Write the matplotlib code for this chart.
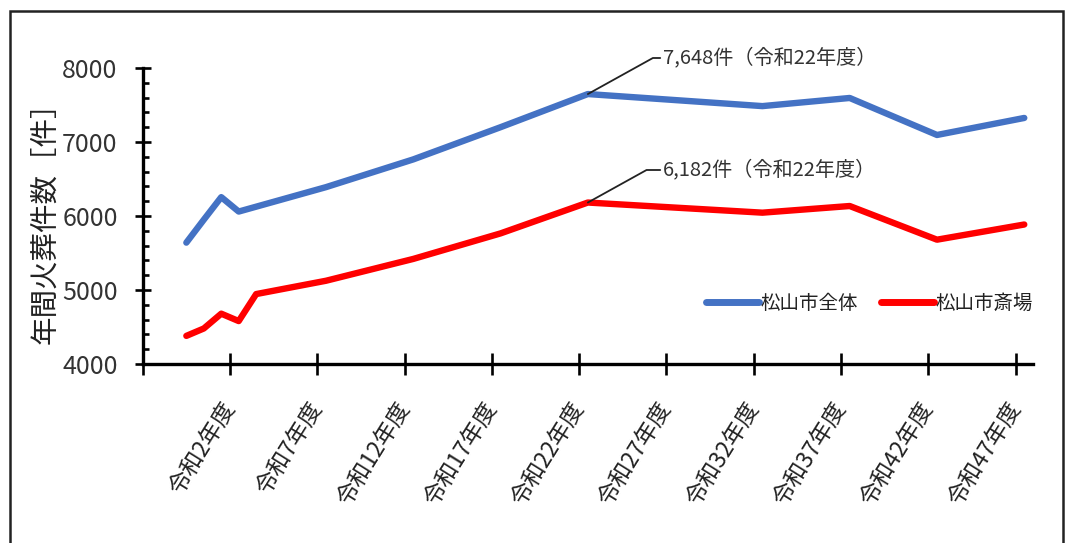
import matplotlib
matplotlib.use('Agg')
import matplotlib.pyplot as plt
from matplotlib.patches import Rectangle
from matplotlib.ticker import MultipleLocator, FixedLocator

plt.rcParams['font.family'] = ['Noto Sans CJK JP', 'DejaVu Sans']

# ---- data (令和 fiscal years; negative = before 令和) ----
total_years = [-1, 0, 1, 2, 7, 12, 17, 22, 32, 37, 42, 47]
total_values = [5640, 5950, 6255, 6060, 6390, 6765, 7200, 7648, 7485, 7595, 7095, 7325]

saijo_years = [-1, 0, 1, 2, 3, 7, 12, 17, 22, 32, 37, 42, 47]
saijo_values = [4380, 4480, 4680, 4580, 4945, 5125, 5420, 5765, 6182, 6045, 6135, 5680, 5885]

series_names = ['松山市全体', '松山市斎場']
series_colors = ['#4472C4', '#FF0000']

tick_years = [2, 7, 12, 17, 22, 27, 32, 37, 42, 47]
tick_labels = [f'令和{y}年度' for y in tick_years]

peak_year = 22
peak_total = 7648
peak_saijo = 6182
ylabel = '年間火葬件数［件］'

W, H = 1066, 543
fig = plt.figure(figsize=(W / 100, H / 100), dpi=100)
ax = fig.add_axes([142.7 / W, 1 - 364 / H, (1033 - 142.7) / W, (364 - 68) / H])

# category centres: year N plotted at N + 0.5
ax.plot([y + 0.5 for y in total_years], total_values, color=series_colors[0],
        lw=4.6, solid_capstyle='round', solid_joinstyle='round', label=series_names[0])
ax.plot([y + 0.5 for y in saijo_years], saijo_values, color=series_colors[1],
        lw=4.6, solid_capstyle='round', solid_joinstyle='round', label=series_names[1])

ax.set_xlim(-3, 48)
ax.set_ylim(4000, 8000)

for s in ['top', 'right']:
    ax.spines[s].set_visible(False)
for s in ['left', 'bottom']:
    ax.spines[s].set_linewidth(2.4)
    ax.spines[s].set_color('#000000')

ax.yaxis.set_major_locator(MultipleLocator(1000))
ax.yaxis.set_minor_locator(MultipleLocator(200))
ax.tick_params(axis='y', which='major', direction='inout', length=12, width=1.9,
               labelsize=18, labelcolor='#333333', pad=12)
ax.tick_params(axis='y', which='minor', direction='in', length=4.5, width=1.9)

ax.xaxis.set_major_locator(FixedLocator([-3] + tick_years))
ax.set_xticklabels([''] + tick_labels)
ax.tick_params(axis='x', which='major', direction='inout', length=16, width=1.9,
               labelsize=16.5, labelcolor='#222222', pad=21)
for lab in ax.get_xticklabels():
    lab.set_rotation(58)
    lab.set_ha('right')
    lab.set_va('center')
    lab.set_rotation_mode('anchor')

ax.set_ylabel(ylabel, fontsize=20.5, color='#222222', labelpad=1)

# annotations
for yv, txt_y in [(peak_total, 485), (peak_saijo, 373)]:
    ax.annotate(f'{yv:,}件（令和{peak_year}年度）', xy=(peak_year + 0.5, yv),
                xytext=(663, txt_y), textcoords='figure pixels',
                ha='left', va='center', fontsize=14.5, color='#333333',
                arrowprops=dict(arrowstyle='-', color='#222222', lw=1.3,
                                connectionstyle='angle,angleA=0,angleB=29,rad=0',
                                relpos=(0, 0.5), shrinkA=0, shrinkB=0))

leg = ax.legend(loc='center left', bbox_to_anchor=(706 / W, 1 - 303 / H),
                bbox_transform=fig.transFigure, ncol=2, frameon=False,
                fontsize=14, handlelength=2.7, handletextpad=0.1,
                columnspacing=1.2, borderpad=0, borderaxespad=0)
for line in leg.get_lines():
    line.set_linewidth(5)
for t in leg.get_texts():
    t.set_color('#222222')

# outer frame
fig.patches.append(Rectangle((9.5 / W, -0.1), (1063 - 9.5) / W, 1.1 - 11 / H,
                             transform=fig.transFigure, fill=False,
                             edgecolor='#222222', lw=1.8))

fig.savefig('out.png', dpi=100)
